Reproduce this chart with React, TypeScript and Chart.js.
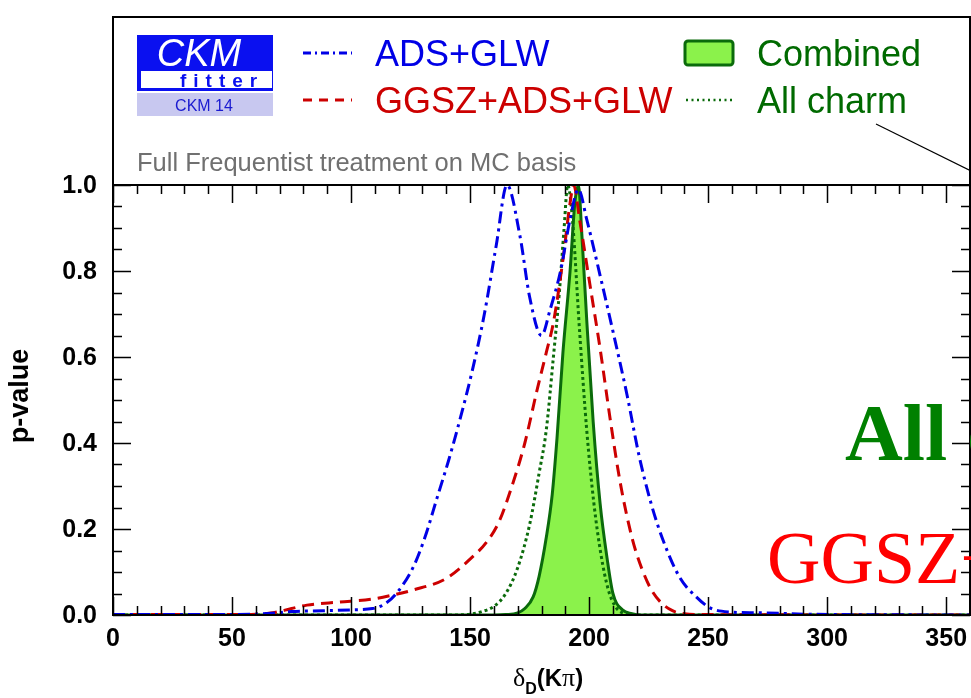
import React, { useEffect, useRef } from "react";
import { Chart, registerables } from "chart.js";

Chart.register(...registerables);

// ---- data ----
const adsGlwX = [0, 40, 60, 67, 75, 88, 100, 109, 114, 119, 126, 131, 136, 141, 146, 151, 156, 161, 165.5, 171, 175, 180, 183.6, 188, 192, 195.5, 199, 204.6, 210, 216, 221, 226, 231, 238, 245, 251, 259, 273, 290, 305, 360];
const adsGlwP = [0.001, 0.001, 0.002, 0.004, 0.008, 0.01, 0.012, 0.015, 0.025, 0.05, 0.11, 0.18, 0.27, 0.36, 0.46, 0.57, 0.7, 0.86, 1.0, 0.88, 0.74, 0.65, 0.71, 0.8, 0.92, 0.99, 0.92, 0.79, 0.66, 0.51, 0.37, 0.26, 0.175, 0.088, 0.042, 0.016, 0.007, 0.005, 0.002, 0.001, 0.0];

const ggszX = [0, 50, 60, 67, 75, 81.5, 95, 109, 118, 126, 140, 151, 157, 162, 167, 173, 178, 182, 185, 189, 192, 193.5, 196, 200, 204.6, 209, 213, 218, 222, 226, 230, 235, 240, 250, 360];
const ggszP = [0.001, 0.001, 0.002, 0.005, 0.015, 0.023, 0.03, 0.037, 0.047, 0.058, 0.085, 0.135, 0.17, 0.215, 0.29, 0.4, 0.52, 0.61, 0.68, 0.826, 0.958, 1.0, 0.92, 0.78, 0.62, 0.45, 0.31, 0.18, 0.11, 0.06, 0.03, 0.01, 0.003, 0.001, 0.0];

const allCharmX = [0, 140, 150, 155, 160, 165, 170, 175, 179, 182, 185, 187.5, 189.5, 191, 193, 196, 199, 202, 205, 208, 211, 214, 218, 360];
const allCharmP = [0, 0, 0.002, 0.008, 0.02, 0.05, 0.11, 0.21, 0.33, 0.43, 0.6, 0.75, 0.9, 1.0, 0.92, 0.66, 0.43, 0.26, 0.14, 0.06, 0.02, 0.005, 0, 0];

const combinedX = [0, 160, 165, 170, 173, 176.5, 179, 182, 184.5, 186.5, 189, 192, 194, 195.5, 197, 199, 201.7, 204.6, 207.6, 210, 214, 218, 222, 360];
const combinedP = [0, 0, 0.001, 0.005, 0.015, 0.042, 0.09, 0.18, 0.28, 0.41, 0.61, 0.8, 0.958, 1.0, 0.88, 0.686, 0.45, 0.26, 0.13, 0.05, 0.012, 0.003, 0, 0];

const xTickValues = [0, 50, 100, 150, 200, 250, 300, 350];
const xTickLabels = ["0", "50", "100", "150", "200", "250", "300", "350"];
const yTickValues = [0, 0.2, 0.4, 0.6, 0.8, 1.0];
const yTickLabels = ["0.0", "0.2", "0.4", "0.6", "0.8", "1.0"];

const X_MIN = 0;
const X_MAX = 360;
const X_MINOR = 10;
const X_MAJOR = 50;
const Y_MINOR = 0.05;
const Y_MAJOR = 0.2;

const BLUE = "#0000e6";
const RED = "#cc0000";
const DKGREEN = "#0b6b0b";
const FILLGREEN = "#8bf24b";

function toPts(xs: number[], ys: number[]) {
  return xs.map((x, i) => ({ x, y: ys[i] }));
}

const decor = {
  id: "decor",
  afterDraw(chart: any) {
    const ctx: CanvasRenderingContext2D = chart.ctx;
    const xs = chart.scales.x;
    const ys = chart.scales.y;
    const { left: L, right: R, top: T, bottom: B } = chart.chartArea;
    const FRAME_TOP = 17;
    ctx.save();

    // frame
    ctx.strokeStyle = "#000";
    ctx.lineWidth = 2;
    ctx.setLineDash([]);
    ctx.strokeRect(L, FRAME_TOP, R - L, B - FRAME_TOP);
    ctx.beginPath();
    ctx.moveTo(L, T);
    ctx.lineTo(R, T);
    ctx.stroke();

    // ticks
    ctx.lineWidth = 1.5;
    ctx.beginPath();
    const nx = Math.round((X_MAX - X_MIN) / X_MINOR);
    for (let i = 0; i <= nx; i++) {
      const v = X_MIN + i * X_MINOR;
      const px = Math.round(xs.getPixelForValue(v)) + 0.5;
      const len = Math.abs(v % X_MAJOR) < 1e-6 ? 18 : 9;
      ctx.moveTo(px, B);
      ctx.lineTo(px, B - len);
      ctx.moveTo(px, T);
      ctx.lineTo(px, T + len);
    }
    const ny = Math.round(1 / Y_MINOR);
    for (let i = 0; i <= ny; i++) {
      const v = i * Y_MINOR;
      const py = Math.round(ys.getPixelForValue(v)) + 0.5;
      const isMaj = Math.abs(v / Y_MAJOR - Math.round(v / Y_MAJOR)) < 1e-6;
      const len = isMaj ? 18 : 9;
      ctx.moveTo(L, py);
      ctx.lineTo(L + len, py);
      ctx.moveTo(R, py);
      ctx.lineTo(R - len, py);
    }
    ctx.stroke();

    // tick labels
    ctx.fillStyle = "#000";
    ctx.font = "bold 25px 'Liberation Sans', Arial, sans-serif";
    ctx.textAlign = "center";
    ctx.textBaseline = "middle";
    xTickValues.forEach((v, i) => {
      ctx.fillText(xTickLabels[i], xs.getPixelForValue(v), 639);
    });
    ctx.textAlign = "right";
    yTickValues.forEach((v, i) => {
      ctx.fillText(yTickLabels[i], 97, ys.getPixelForValue(v) + 1);
    });

    // y title
    ctx.save();
    ctx.translate(28, 396);
    ctx.rotate(-Math.PI / 2);
    ctx.textAlign = "center";
    ctx.textBaseline = "alphabetic";
    ctx.font = "bold 27px 'Liberation Sans', Arial, sans-serif";
    ctx.fillText("p-value", 0, 0);
    ctx.restore();

    // x title: δ_D(Kπ)
    {
      const base = 686;
      const fDelta = "26px 'Liberation Serif', serif";
      const fSub = "bold 16px 'Liberation Sans', Arial, sans-serif";
      const fMain = "bold 24px 'Liberation Sans', Arial, sans-serif";
      const fPi = "26px 'Liberation Serif', serif";
      const parts: [string, string, number][] = [
        ["δ", fDelta, 0],
        ["D", fSub, 8],
        ["(K", fMain, 0],
        ["π", fPi, 0],
        [")", fMain, 0],
      ];
      let total = 0;
      parts.forEach(([t, f]) => {
        ctx.font = f;
        total += ctx.measureText(t).width;
      });
      let x = 548 - total / 2;
      ctx.textAlign = "left";
      ctx.textBaseline = "alphabetic";
      parts.forEach(([t, f, dy]) => {
        ctx.font = f;
        ctx.fillText(t, x, base + dy);
        x += ctx.measureText(t).width;
      });
    }

    // ---- legend panel ----
    // CKMfitter logo
    ctx.fillStyle = "#0a10f0";
    ctx.fillRect(137, 35, 136, 56);
    ctx.fillStyle = "#fff";
    ctx.fillRect(141, 71, 131, 17);
    ctx.fillStyle = "#c8c8f0";
    ctx.fillRect(137, 93, 136, 23);
    ctx.fillStyle = "#fff";
    ctx.font = "italic 38px 'Liberation Sans', Arial, sans-serif";
    ctx.textAlign = "center";
    ctx.textBaseline = "alphabetic";
    ctx.fillText("CKM", 199, 66);
    ctx.fillStyle = "#0a10f0";
    ctx.font = "bold 19px 'Liberation Sans', Arial, sans-serif";
    (ctx as any).letterSpacing = "7px";
    ctx.textAlign = "left";
    ctx.fillText("fitter", 180, 87);
    (ctx as any).letterSpacing = "0px";
    ctx.fillStyle = "#1a1ad0";
    ctx.font = "16px 'Liberation Sans', Arial, sans-serif";
    ctx.textAlign = "center";
    ctx.fillText("CKM 14", 204, 111);

    // legend entries
    ctx.textAlign = "left";
    ctx.font = "36px 'Liberation Sans', Arial, sans-serif";
    // ADS+GLW
    ctx.strokeStyle = BLUE;
    ctx.lineWidth = 3;
    ctx.setLineDash([8, 4, 2, 4]);
    ctx.beginPath();
    ctx.moveTo(303, 53);
    ctx.lineTo(352, 53);
    ctx.stroke();
    ctx.fillStyle = BLUE;
    ctx.fillText("ADS+GLW", 375, 66);
    // GGSZ+ADS+GLW
    ctx.strokeStyle = RED;
    ctx.setLineDash([9, 7]);
    ctx.beginPath();
    ctx.moveTo(303, 100);
    ctx.lineTo(352, 100);
    ctx.stroke();
    ctx.fillStyle = RED;
    ctx.fillText("GGSZ+ADS+GLW", 375, 113);
    // Combined
    ctx.setLineDash([]);
    ctx.fillStyle = FILLGREEN;
    ctx.strokeStyle = DKGREEN;
    ctx.lineWidth = 3;
    ctx.beginPath();
    (ctx as any).roundRect ? (ctx as any).roundRect(685, 41, 48, 24, 3) : ctx.rect(685, 41, 48, 24);
    ctx.fill();
    ctx.stroke();
    ctx.fillStyle = "#006a00";
    ctx.fillText("Combined", 757, 66);
    // All charm
    ctx.strokeStyle = DKGREEN;
    ctx.lineWidth = 2.5;
    ctx.setLineDash([2, 3.5]);
    ctx.beginPath();
    ctx.moveTo(686, 100);
    ctx.lineTo(733, 100);
    ctx.stroke();
    ctx.setLineDash([]);
    ctx.fillText("All charm", 757, 113);

    // caption
    ctx.fillStyle = "#707070";
    ctx.font = "25.5px 'Liberation Sans', Arial, sans-serif";
    ctx.fillText("Full Frequentist treatment on MC basis", 137, 171);

    // diagonal pointer line
    ctx.strokeStyle = "#000";
    ctx.lineWidth = 1.2;
    ctx.beginPath();
    ctx.moveTo(876, 124);
    ctx.lineTo(971, 171);
    ctx.stroke();

    // big overlay labels (clipped by the canvas edge)
    ctx.fillStyle = "#008000";
    ctx.font = "bold 80px 'Liberation Serif', serif";
    ctx.fillText("All charm", 845, 460);
    ctx.fillStyle = "#ff0000";
    ctx.font = "74px 'Liberation Serif', serif";
    ctx.fillText("GGSZ+ADS+GLW", 767, 583);

    ctx.restore();
  },
};

export default function App() {
  const ref = useRef<HTMLCanvasElement | null>(null);

  useEffect(() => {
    document.body.style.margin = "0";
    const canvas = ref.current;
    if (!canvas) return;
    const common = {
      pointRadius: 0,
      pointHoverRadius: 0,
      cubicInterpolationMode: "monotone" as const,
      borderWidth: 3,
    };
    const chart = new Chart(canvas, {
      type: "line",
      data: {
        datasets: [
          {
            ...common,
            label: "ADS+GLW",
            data: toPts(adsGlwX, adsGlwP),
            borderColor: BLUE,
            borderDash: [12, 5, 3, 5],
            fill: false,
            order: 1,
          },
          {
            ...common,
            label: "GGSZ+ADS+GLW",
            data: toPts(ggszX, ggszP),
            borderColor: RED,
            borderDash: [12, 7],
            fill: false,
            order: 2,
          },
          {
            ...common,
            label: "All charm",
            data: toPts(allCharmX, allCharmP),
            borderColor: DKGREEN,
            borderDash: [3, 3],
            fill: false,
            order: 3,
          },
          {
            ...common,
            label: "Combined",
            data: toPts(combinedX, combinedP),
            borderColor: DKGREEN,
            backgroundColor: FILLGREEN,
            fill: "origin",
            order: 4,
          },
        ],
      },
      options: {
        animation: false,
        responsive: false,
        devicePixelRatio: 1,
        layout: { padding: { top: 185, left: 113, right: 1, bottom: 83 } },
        plugins: { legend: { display: false }, tooltip: { enabled: false } },
        scales: {
          x: { type: "linear", min: X_MIN, max: X_MAX, display: false },
          y: { type: "linear", min: 0, max: 1, display: false },
        },
      },
      plugins: [decor],
    });
    return () => chart.destroy();
  }, []);

  return (
    <div style={{ position: "absolute", left: 0, top: 0, width: 971, height: 698, background: "#fff" }}>
      <canvas ref={ref} width={971} height={698} style={{ display: "block" }} />
    </div>
  );
}
